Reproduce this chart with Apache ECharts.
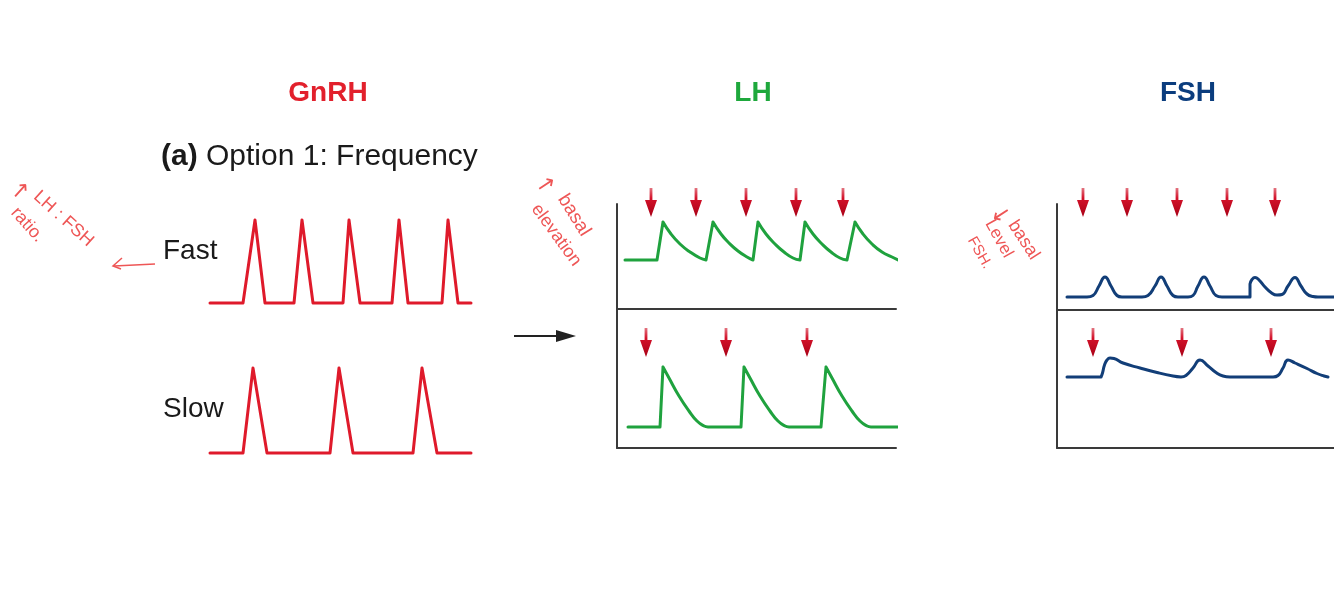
<!DOCTYPE html>
<html>
<head>
<meta charset="utf-8">
<title>GnRH pulse frequency - LH / FSH</title>
<script src="https://cdn.jsdelivr.net/npm/echarts@6/dist/echarts.min.js"></script>
<style>
  html, body { margin: 0; padding: 0; background: #fff; }
  #chart { width: 1334px; height: 616px; }
</style>
</head>
<body>
<div id="chart"></div>
<script>
// ---- data (time on x, hormone level on y, arbitrary units) ----
// GnRH pulses, level 0 = basal, 10 = peak
const gnrhFast = [[0,0],[33,0],[45,10],[55,0],[84,0],[92,10],[103,0],[133,0],[139,10],[150,0],
  [182,0],[189,10],[198,0],[232,0],[238,10],[248,0],[261,0]];
const gnrhSlow = [[0,0],[33,0],[43,10],[57,0],[120,0],[129,10],[143,0],[203,0],[212,10],[227,0],[261,0]];

// LH response, written as pieces so the rises stay sharp and the decays smooth
const lhFast = [
  [[8,49],[40,49]], [[40,49],[46,87]],
  [[46,87],[54,75],[63,65],[73,57],[83,51],[89,49]], [[89,49],[96,87]],
  [[96,87],[104,75],[112,66],[121,58],[130,52],[136,49]], [[136,49],[141,87]],
  [[141,87],[149,75],[158,65],[167,57],[176,51],[183,49]], [[183,49],[188,87]],
  [[188,87],[196,75],[205,65],[214,57],[223,51],[230,49]], [[230,49],[238,87]],
  [[238,87],[246,75],[255,65],[265,57],[275,52],[281,49]]
];
const lhSlow = [
  [[11,21],[43,21]], [[43,21],[46,81]],
  [[46,81],[52,70],[62,52],[72,37],[80,27],[87,22],[91,21]], [[91,21],[124,21]], [[124,21],[127,81]],
  [[127,81],[133,70],[143,52],[153,37],[161,27],[168,22],[172,21]], [[172,21],[204,21]], [[204,21],[209,81]],
  [[209,81],[215,70],[225,52],[235,37],[243,27],[250,22],[254,21]], [[254,21],[283,21]]
];

// FSH response
const fshFast = [
  [[10,13],[30,13]],
  [[30,13],[36,14.5],[42,24],[48,33],[54,24],[60,14.5],[65,13]],
  [[65,13],[85,13]],
  [[85,13],[91,14.5],[98,24],[104,33],[110,24],[116,14.5],[121,13]],
  [[121,13],[131,13]],
  [[131,13],[136,14.5],[141,24],[147,33],[153,24],[159,14.5],[165,13]],
  [[165,13],[193,13]],
  [[193,13],[193,26]],
  [[193,26],[195,30.5],[198,32.5],[202,30],[208,23],[214,17.5],[220,15],[225,15.5],[231,24],[238,32.5],[244,24],[250,16],[256,13.5],[261,13]],
  [[261,13],[277,13]]
];
const fshSlow = [
  [[10,71],[44,71]],
  [[44,71],[45.5,75],[47.5,83],[50,88],[53,90],[57,89.5],[66,85],[83,80],[100,75.5],[116,72],[124,71]],
  [[124,71],[129,72.5],[136,80],[143,88],[151,82],[159,75.5],[166,72],[173,71]],
  [[173,71],[216,71]],
  [[216,71],[221,72.5],[226,80],[231,88],[238,85],[250,79.5],[260,74.5],[267,72],[271,71]]
];

// GnRH pulse times marked with red arrows
const lhFastPulses = [34, 79, 129, 179, 226];
const lhSlowPulses = [29, 109, 190];
const fshFastPulses = [26, 70, 120, 170, 218];
const fshSlowPulses = [36, 125, 214];

// ---- layout / style ----
const FONT = "'Liberation Sans', Arial, sans-serif";
const HAND = "'Liberation Sans', 'DejaVu Sans', sans-serif";
const INK = '#ee5656';
const AXIS = { color: '#3a3a3a', width: 2 };
const ARROW = 'path://M4.6,0 L7.4,0 L7.4,12 L12,12 L6,29 L0,12 L4.6,12 Z';
const arrowFill = {
  type: 'linear', x: 0, y: 0, x2: 0, y2: 1,
  colorStops: [{ offset: 0, color: '#e27480' }, { offset: 0.35, color: '#d4122a' }, { offset: 1, color: '#a80016' }]
};

const panels = [
  { left: 210, top: 220, width: 261, height: 83, yMax: 10, frame: false },    // GnRH fast
  { left: 210, top: 368, width: 261, height: 85, yMax: 10, frame: false },    // GnRH slow
  { left: 617, top: 204, width: 279, height: 105, yMax: 105, frame: true },   // LH fast
  { left: 617, top: 309, width: 279, height: 139, yMax: 139, frame: true },   // LH slow
  { left: 1057, top: 204, width: 277, height: 106, yMax: 106, frame: true },  // FSH fast
  { left: 1057, top: 310, width: 277, height: 138, yMax: 138, frame: true }   // FSH slow
];

const GAP = ['-', '-'];
function joinSegments(segs) {
  let out = [];
  segs.forEach((s, i) => {
    if (i) out.push(GAP);
    out = out.concat(s);
  });
  return out;
}

function axis(p, i, max) {
  return {
    type: 'value', gridIndex: i, min: 0, max: max,
    show: true,
    axisLine: { show: p.frame, onZero: true, lineStyle: AXIS },
    axisTick: { show: false }, axisLabel: { show: false }, splitLine: { show: false }
  };
}

function curve(i, data, color, smooth) {
  return {
    type: 'line', xAxisIndex: i, yAxisIndex: i, data: data,
    smooth: smooth, showSymbol: false, symbol: 'none', clip: false, silent: true,
    lineStyle: { color: color, width: 3, cap: 'round', join: 'round' }
  };
}

function arrows(i, times, tip) {
  return {
    type: 'scatter', xAxisIndex: i, yAxisIndex: i,
    data: times.map(t => [t, tip]),
    symbol: ARROW, symbolSize: [12, 29], symbolOffset: [0, '-50%'],
    clip: false, silent: true, itemStyle: { color: arrowFill, opacity: 1 }
  };
}

function hand(text, x, y, deg, size, family) {
  return {
    type: 'text', x: x, y: y, rotation: -deg * Math.PI / 180, silent: true,
    style: { text: text, fill: INK, font: size + 'px ' + (family || HAND), align: 'left', verticalAlign: 'middle' }
  };
}

function label(text, x, y, color, weight, align) {
  return {
    type: 'text', x: x, y: y, silent: true,
    style: { text: text, fill: color, font: weight + ' 28px ' + FONT, align: align, verticalAlign: 'middle' }
  };
}

const ARROWFONT = "'DejaVu Sans', sans-serif";

const chart = echarts.init(document.getElementById('chart'));
chart.setOption({
  animation: false,
  backgroundColor: '#fff',
  grid: panels.map(p => ({ left: p.left, top: p.top, width: p.width, height: p.height })),
  xAxis: panels.map((p, i) => axis(p, i, p.width)),
  yAxis: panels.map((p, i) => axis(p, i, p.yMax)),
  series: [
    curve(0, gnrhFast, '#df1a2b', false),
    curve(1, gnrhSlow, '#df1a2b', false),
    curve(2, joinSegments(lhFast), '#1fa23e', 0.5),
    curve(3, joinSegments(lhSlow), '#1fa23e', 0.5),
    curve(4, joinSegments(fshFast), '#123e78', 0.5),
    curve(5, joinSegments(fshSlow), '#123e78', 0.5),
    arrows(2, lhFastPulses, 92),
    arrows(3, lhSlowPulses, 91),
    arrows(4, fshFastPulses, 93),
    arrows(5, fshSlowPulses, 91)
  ],
  graphic: [
    label('GnRH', 328, 93, '#e2202c', 'bold', 'center'),
    label('LH', 753, 93, '#1ea83c', 'bold', 'center'),
    label('FSH', 1188, 93, '#0b3d7e', 'bold', 'center'),
    {
      type: 'text', x: 161, y: 157, silent: true,
      style: {
        text: '{b|(a)} Option 1: Frequency', fill: '#1a1a1a', font: '30px ' + FONT,
        align: 'left', verticalAlign: 'middle',
        rich: { b: { fontWeight: 'bold', fontSize: 30, fontFamily: FONT, fill: '#1a1a1a' } }
      }
    },
    label('Fast', 163, 251, '#1a1a1a', 'normal', 'left'),
    label('Slow', 163, 409, '#1a1a1a', 'normal', 'left'),
    // black arrow between the GnRH and LH panels
    { type: 'line', silent: true, shape: { x1: 514, y1: 336, x2: 560, y2: 336 }, style: { stroke: '#222', lineWidth: 2 } },
    { type: 'polygon', silent: true, shape: { points: [[576, 336], [556, 330], [556, 342]] }, style: { fill: '#222' } },
    // handwritten notes
    hand('\u2191', 12, 186, 42, 22, ARROWFONT),
    hand('LH : FSH', 36, 194, 42, 18),
    hand('ratio.', 14, 210, 48, 18),
    { type: 'polyline', silent: true, shape: { points: [[155, 264], [114, 266]] }, style: { stroke: INK, lineWidth: 1.5, fill: null } },
    { type: 'polyline', silent: true, shape: { points: [[122, 258], [113, 266], [121, 269]] }, style: { stroke: INK, lineWidth: 1.5, fill: null } },
    hand('\u2191', 539, 178, 57, 22, ARROWFONT),
    hand('basal', 562, 196, 58, 19),
    hand('elevation', 535, 206, 54, 18),
    hand('\u2193', 994, 208, 57, 22, ARROWFONT),
    hand('basal', 1012, 222, 57, 18),
    hand('Level', 989, 221, 61, 17),
    hand('FSH.', 971, 238, 60, 15)
  ]
});
</script>
</body>
</html>
